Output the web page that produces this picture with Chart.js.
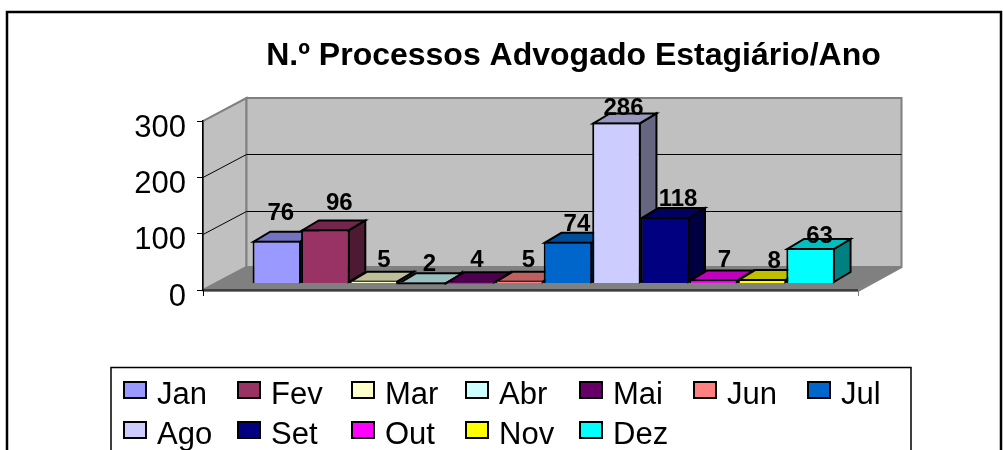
<!DOCTYPE html>
<html><head><meta charset="utf-8">
<style>html,body{margin:0;padding:0;background:#fff;overflow:hidden}canvas{display:block}</style>
<script src="https://cdn.jsdelivr.net/npm/chart.js@4"></script></head>
<body><canvas id="c" width="1003" height="450"></canvas>
<script>
const seriesNames = ['Jan','Fev','Mar','Abr','Mai','Jun','Jul','Ago','Set','Out','Nov','Dez'];
const seriesValues = [76,96,5,2,4,5,74,286,118,7,8,63];
const seriesColors = ['#9999FF','#993366','#FFFFCC','#CCFFFF','#660066','#FF8080','#0066CC','#CCCCFF','#000080','#FF00FF','#FFFF00','#00FFFF'];
const categories = [''];
const yTicks = [0,100,200,300];
const titleText = 'N.º Processos Advogado Estagiário/Ano';

const FONT = '"Liberation Sans", Arial, sans-serif';
const WALL = {dx:43.5, dy:-23};    // depth of the whole floor
const PLANE = {dx:13.2, dy:-6.5};  // where the bar row stands on the floor
const BOX = {dx:16.7, dy:-10};     // depth of a bar
// hand-placed value labels in the reference: small shifts from the default spot above each bar
const labelShiftX = [-4,6,2,-1,-2,1,1,-1,5,3,4,1];
const labelShiftY = [-7,-6,0,2,-1,0,3,6,2,1,2,8];

function shade(hex, k){
  const n = parseInt(hex.slice(1),16);
  const c = s => Math.round(((n>>s)&255)*k);
  return `rgb(${c(16)},${c(8)},${c(0)})`;
}
function poly(ctx, pts, fill, stroke, lw){
  ctx.beginPath();
  pts.forEach((p,i)=> i?ctx.lineTo(p[0],p[1]):ctx.moveTo(p[0],p[1]));
  ctx.closePath();
  if(fill){ctx.fillStyle=fill;ctx.fill();}
  if(stroke){ctx.strokeStyle=stroke;ctx.lineWidth=lw;ctx.stroke();}
}

const scene = {
  id:'scene',
  afterLayout(chart){
    const t = chart.titleBlock;
    t.left = 146; t.right = 1001;
  },
  beforeDraw(chart){
    const {ctx, scales:{y}, chartArea:a} = chart;
    ctx.save();
    ctx.fillStyle='#fff';ctx.fillRect(0,0,chart.width,chart.height);
    // outer frame
    ctx.strokeStyle='#000';ctx.lineWidth=2.5;
    ctx.strokeRect(7,12,994,460);
    const y0=y.getPixelForValue(0), yT=y.getPixelForValue(300);
    const L=a.left,R=a.right,d=WALL;
    // side wall + back wall
    poly(ctx,[[L,y0],[L,yT],[L+d.dx,yT+d.dy],[L+d.dx,y0+d.dy]],'#C0C0C0','#808080',2);
    poly(ctx,[[L+d.dx,yT+d.dy],[R+d.dx,yT+d.dy],[R+d.dx,y0+d.dy],[L+d.dx,y0+d.dy]],'#C0C0C0','#808080',2);
    // floor
    poly(ctx,[[L+d.dx,y0+d.dy],[R+d.dx,y0+d.dy],[R,y0],[L,y0]],'#808080');
    // grid lines
    ctx.strokeStyle='#000';ctx.lineWidth=1;
    yTicks.filter(v=>v>0&&v<300).forEach(v=>{
      const p=Math.round(y.getPixelForValue(v))+.5;
      ctx.beginPath();ctx.moveTo(L,p);ctx.lineTo(L+d.dx,p+d.dy);ctx.lineTo(R+d.dx,p+d.dy);ctx.stroke();
    });
    // front floor edge and end ticks
    ctx.strokeStyle='#808080';ctx.lineWidth=2;
    ctx.beginPath();ctx.moveTo(L,y0+1);ctx.lineTo(R,y0+1);ctx.lineTo(R+d.dx,y0+d.dy);ctx.stroke();
    ctx.strokeStyle='#000';ctx.lineWidth=1;
    ctx.beginPath();ctx.moveTo(L,y0);ctx.lineTo(R,y0);ctx.stroke();
    ctx.beginPath();ctx.moveTo(L+.5,y0);ctx.lineTo(L+.5,y0+6);ctx.stroke();
    ctx.strokeStyle='#808080';
    ctx.beginPath();ctx.moveTo(R+.5,y0);ctx.lineTo(R+.5,y0+6);ctx.stroke();
    ctx.restore();
  },
  beforeDatasetsDraw(chart){
    const {ctx}=chart;
    ctx.save();
    ctx.translate(PLANE.dx,PLANE.dy);
    // sides and tops, in series order, so each later bar covers the earlier one
    ctx.lineJoin='miter';
    chart.data.datasets.forEach((ds,i)=>{
      const b=chart.getDatasetMeta(i).data[0];
      const l=b.x-b.width/2+1,r=b.x+b.width/2-1,t=b.y+1,base=b.base-1;
      const D=BOX;
      poly(ctx,[[r,base],[r+D.dx,base+D.dy],[r+D.dx,t+D.dy],[r,t]],shade(ds.backgroundColor,.5),'#000',2);
      poly(ctx,[[l,t],[r,t],[r+D.dx,t+D.dy],[l+D.dx,t+D.dy]],shade(ds.backgroundColor,.75),'#000',2);
    });
  },
  afterDatasetsDraw(chart){
    const {ctx}=chart;
    // value labels
    ctx.fillStyle='#000';ctx.font='bold 24px '+FONT;ctx.textAlign='center';ctx.textBaseline='middle';
    chart.data.datasets.forEach((ds,i)=>{
      const b=chart.getDatasetMeta(i).data[0];
      ctx.fillText(String(ds.data[0]),b.x+8+labelShiftX[i],b.y-20+labelShiftY[i]);
    });
    ctx.restore();
    // legend
    ctx.save();
    ctx.strokeStyle='#000';ctx.lineWidth=1.5;
    ctx.beginPath();ctx.moveTo(111,460);ctx.lineTo(111,367.5);ctx.lineTo(911,367.5);ctx.lineTo(911,460);ctx.stroke();
    ctx.font='31px '+FONT;ctx.textAlign='left';ctx.textBaseline='alphabetic';
    chart.data.datasets.forEach((ds,i)=>{
      const col=i%7,row=Math.floor(i/7);
      const x=124+col*114,y=382+row*40;
      ctx.fillStyle=ds.backgroundColor;ctx.fillRect(x,y,22,16);
      ctx.strokeStyle='#000';ctx.lineWidth=2;ctx.strokeRect(x,y,22,16);
      ctx.fillStyle='#000';ctx.fillText(ds.label,x+33,y+22);
    });
    ctx.restore();
  }
};

new Chart(document.getElementById('c'),{
  type:'bar',
  data:{labels:categories,datasets:seriesNames.map((n,i)=>({
    label:n,data:[seriesValues[i]],backgroundColor:seriesColors[i],borderColor:'#000',borderWidth:2,clip:false
  }))},
  options:{
    responsive:false,animation:false,
    categoryPercentage:.889,barPercentage:1,
    layout:{padding:{left:0,right:145,top:0,bottom:160}},
    plugins:{
      legend:{display:false},tooltip:{enabled:false},
      title:{display:true,text:titleText,color:'#000',font:{family:FONT,size:32,weight:'bold'},padding:{top:37,bottom:45.6}}
    },
    scales:{
      x:{display:false},
      y:{min:0,max:300,
        afterFit(s){s.width=203;},
        afterBuildTicks(s){s.ticks=yTicks.map(v=>({value:v}));},
        ticks:{color:'#000',font:{family:FONT,size:31},padding:11,labelOffset:7},
        grid:{drawOnChartArea:false,drawTicks:true,tickLength:6,color:'#000',lineWidth:1},
        border:{display:true,color:'#000',width:1.5}
      }
    }
  },
  plugins:[scene]
});
</script></body></html>
